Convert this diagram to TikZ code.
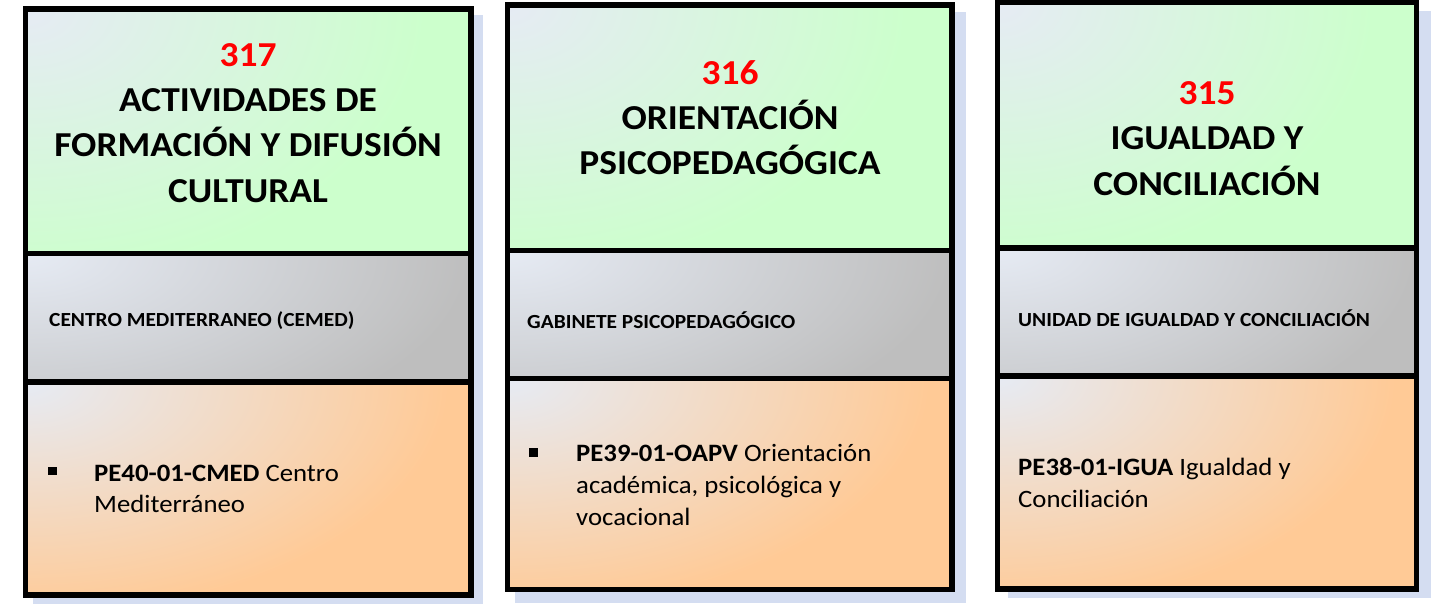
\documentclass[tikz,border=0pt]{standalone}
\usepackage{fontspec}
\setmainfont{Carlito}[FakeStretch=1.07]
\definecolor{lite}{HTML}{E6EBF4}
\definecolor{grn}{HTML}{CCFFCC}
\definecolor{gry}{HTML}{BEBEBE}
\definecolor{org}{HTML}{FFCA96}
\definecolor{shad}{HTML}{D4DDF1}
\definecolor{numred}{HTML}{FF0000}
\tikzset{
  boxline/.style={draw=black, line width=5.5pt},
  shadowbox/.style={fill=shad},
  ttl/.style={font=\bfseries\fontsize{35}{45}\selectfont, align=center, inner sep=0pt, anchor=base},
  subtxt/.style={font=\bfseries\fontsize{20}{24}\selectfont, inner sep=0pt, anchor=base west},
  bodytxt/.style={font=\fontsize{25}{32}\selectfont, align=left, inner sep=0pt, anchor=base west},
  bulletsq/.style={fill=black}
}
% #1 x1, #2 y1, #3 x2, #4 y2, #5 colour, #6 #7 radius factors of the corner glow
\newcommand\mygradbox[7]{%
  \begin{scope}
    \clip (#1,#2) rectangle (#3,#4);
    \fill[#5] (#1,#2) rectangle (#3,#4);
    \pgfmathsetmacro\gbrx{(#3-#1)*#6}%
    \pgfmathsetmacro\gbry{(#4-#2)*#7}%
    \shade[inner color=lite, outer color=#5] (#1,#2) ellipse [x radius=\gbrx pt, y radius=\gbry pt];
  \end{scope}
  \draw[boxline] (#1,#2) rectangle (#3,#4);
}
\begin{document}
\begin{tikzpicture}[x=1pt, y=-1pt]
\useasboundingbox (0,0) rectangle (1439,604);
% shadows
\fill[shadowbox] (33,15) rectangle (483,604);
\fill[shadowbox] (515,12) rectangle (966,603);
\fill[shadowbox] (1008,11) rectangle (1431,598);
% column 1
\mygradbox{25.5}{9}{471}{253.7}{grn}{0.9}{1.1}
\mygradbox{25.5}{253.7}{471}{382}{gry}{1.0}{1.6}
\mygradbox{25.5}{382}{471}{595}{org}{0.95}{1.1}
% column 2
\mygradbox{507.5}{5}{952}{250.7}{grn}{0.9}{1.1}
\mygradbox{507.5}{250.7}{952}{378.7}{gry}{1.0}{1.6}
\mygradbox{507.5}{378.7}{952}{589.7}{org}{0.95}{1.1}
% column 3
\mygradbox{997.5}{2.7}{1416.7}{247.8}{grn}{0.9}{1.1}
\mygradbox{997.5}{247.8}{1416.7}{376.2}{gry}{1.0}{1.6}
\mygradbox{997.5}{376.2}{1416.7}{589}{org}{0.95}{1.1}
% titles (anchor = baseline of last line)
\node[ttl] (t317) at (248,202) {{\color{numred}317}\\ACTIVIDADES DE\\FORMACIÓN Y DIFUSIÓN\\CULTURAL};
\node[ttl] (t316) at (730,175) {{\color{numred}316}\\ORIENTACIÓN\\PSICOPEDAGÓGICA};
\node[ttl] (t315) at (1207,195) {{\color{numred}315}\\IGUALDAD Y\\CONCILIACIÓN};
% units
\node[subtxt] (u1) at (49,326) {CENTRO MEDITERRANEO (CEMED)};
\node[subtxt] (u2) at (527,328) {GABINETE PSICOPEDAGÓGICO};
\node[subtxt] (u3) at (1018,326) {UNIDAD DE IGUALDAD Y CONCILIACIÓN};
% processes
\fill[bulletsq] (48,467) rectangle (57,475);
\node[bodytxt, font=\fontsize{25}{31}\selectfont] (p1) at (94,512) {\textbf{PE40-01-CMED} Centro\\Mediterráneo};
\fill[bulletsq] (529,448) rectangle (538,457);
\node[bodytxt] (p2) at (576,525) {\textbf{PE39-01-OAPV} Orientación\\académica, psicológica y\\vocacional};
\node[bodytxt] (p3) at (1018,507) {\textbf{PE38-01-IGUA} Igualdad y\\Conciliación};
\end{tikzpicture}
\end{document}
